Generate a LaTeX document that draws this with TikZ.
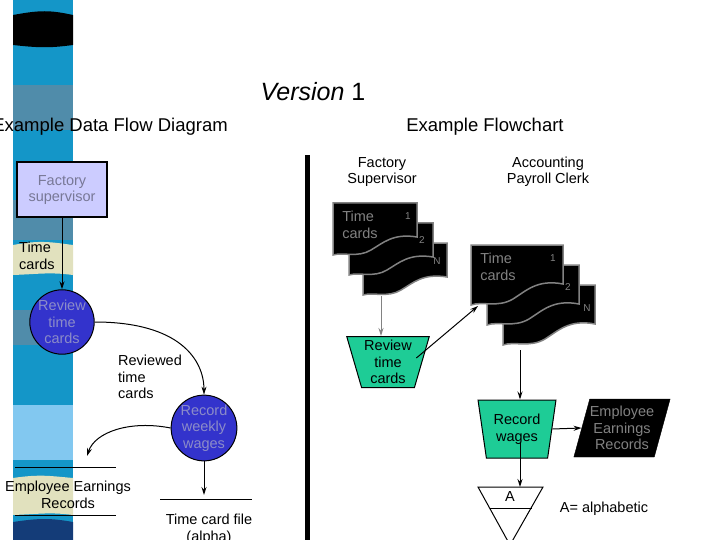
\documentclass[tikz,border=0pt]{standalone}
\usepackage{fontspec}
\setmainfont{Liberation Sans}
\usetikzlibrary{shapes.geometric,arrows.meta}
\definecolor{stripA}{RGB}{20,150,200}
\definecolor{stripB}{RGB}{80,140,170}
\definecolor{beige}{RGB}{225,225,190}
\definecolor{lblue}{RGB}{130,200,240}
\definecolor{navy}{RGB}{20,60,120}
\definecolor{lav}{RGB}{204,204,255}
\definecolor{lavtxt}{RGB}{120,120,150}
\definecolor{dblue}{RGB}{51,51,204}
\definecolor{cirtxt}{RGB}{140,140,200}
\definecolor{teal}{RGB}{30,204,150}
\definecolor{docgray}{RGB}{130,130,130}
\tikzset{
  fnt/.style={font=\fontsize{14.5}{16.5}\selectfont},
  lbl/.style={fnt, align=center, inner sep=0pt},
  arr/.style={-{Stealth[length=8pt,width=5pt]}, line width=1pt},
  circ/.style={circle, fill=dblue, draw=black, line width=1pt, minimum size=64pt, text=cirtxt, fnt, align=center, inner sep=0pt},
  trap/.style={trapezium, shape border rotate=180, trapezium stretches=true, fill=teal, draw=black, line width=1pt, fnt, align=center, inner sep=0pt},
  docst/.style={fill=black, draw=docgray, line width=1.5pt},
  doc/.pic={\draw[docst] (0,52) -- (0,0) -- (84,0) -- (84,34) .. controls (60,30) and (50,40) .. (38,47) .. controls (25,55) and (10,49) .. (0,52) -- cycle;},
  docB/.pic={\draw[docst] (0,60) -- (0,0) -- (92,0) -- (92,39) .. controls (66,34) and (55,46) .. (42,54) .. controls (27,63) and (11,56) .. (0,60) -- cycle;},
  dnum/.style={font=\fontsize{10}{12}\selectfont, text=docgray, inner sep=0pt},
  dtxt/.style={fnt, text=docgray, align=left, inner sep=0pt}
}
\begin{document}
\begin{tikzpicture}[x=1pt,y=-1pt]
\useasboundingbox (0,0) rectangle (720,540);
\clip (0,0) rectangle (720,540);
\fill[white] (0,0) rectangle (720,540);
% strip
\fill[stripA] (13,0) rectangle (73,540);
\fill[black] (13,15) .. controls (40,10) and (50,10) .. (73,15) -- (73,45) .. controls (50,48) and (40,48) .. (13,45) -- cycle;
\fill[stripB] (13,85) rectangle (73,130);
\fill[stripB] (13,200) rectangle (73,240);
\fill[beige] (13,245) .. controls (40,240) and (50,242) .. (73,245) -- (73,275) .. controls (50,272) and (40,274) .. (13,275) -- cycle;
\fill[stripB] (13,310) rectangle (73,345);
\fill[lblue] (13,405) rectangle (73,460);
\fill[beige] (13,478) .. controls (40,474) and (50,476) .. (73,478) -- (73,515) .. controls (50,512) and (40,514) .. (13,515) -- cycle;
\fill[navy] (13,522) .. controls (40,518) and (50,518) .. (73,522) -- (73,540) -- (13,540) -- cycle;
% titles
\node[font=\fontsize{25}{30}\selectfont] (ver) at (313,92) {\textit{Version} 1};
\node[font=\fontsize{18.5}{22}\selectfont, anchor=east, inner sep=0pt] (t1) at (228,127) {Example Data Flow Diagram};
\node[font=\fontsize{18.5}{22}\selectfont] (t2) at (485,127) {Example Flowchart};
% DFD
\node[draw=black, line width=2pt, fill=lav, minimum width=90pt, minimum height=55pt, text=lavtxt, fnt, align=center] (fs) at (62,190) {Factory\\supervisor};
\node[circ] (rev) at (62,322) {Review\\time\\cards};
\draw[arr] (fs.south) -- (rev.north);
\node[lbl, anchor=west, align=left] (tcl) at (19,256) {Time\\cards};
\node[circ, minimum size=60pt] (rec) at (204,428) {Record\\weekly\\wages};
\draw[arr] (rev.east) .. controls (180,322) and (204,360) .. (rec.north);
\node[lbl, anchor=west, align=left] (rtc) at (118,377) {Reviewed\\time\\cards};
\coordinate (eerT) at (87,456);
\draw[arr] (rec.west) .. controls (130,420) and (95,432) .. (eerT);
\coordinate (e1) at (15,467); \coordinate (e2) at (116,467);
\coordinate (e3) at (15,515); \coordinate (e4) at (116,515);
\draw[line width=1pt] (e1) -- (e2); \draw[line width=1pt] (e3) -- (e4);
\node[lbl] (eer) at (68,495) {Employee Earnings\\Records};
\coordinate (tf) at (204,495);
\draw[arr] (rec.south) -- (tf);
\coordinate (f1) at (160,499); \coordinate (f2) at (252,499);
\draw[line width=1pt] (f1) -- (f2);
\node[lbl] (tcf) at (209,529) {Time card file\\(alpha)};
% divider
\fill[black] (305,155) rectangle (310,540);
% flowchart
\node[lbl] (fsup) at (382,172) {Factory\\Supervisor};
\node[lbl] (apc) at (548,172) {Accounting\\Payroll Clerk};
\pic at (363,243) {doc};
\pic at (349,223) {doc};
\pic at (333,203) {doc};
\node[dtxt] (d1t) at (360,225) {Time\\cards};
\node[dnum] at (408,216) {1};
\node[dnum] at (422,240) {2};
\node[dnum] at (437,261) {N};
\coordinate (s1b) at (381,296);
\pic at (503,285) {docB};
\pic at (487,265) {docB};
\pic at (471,245) {docB};
\node[dtxt] (d2t) at (498,267) {Time\\cards};
\node[dnum] at (553,258) {1};
\node[dnum] at (568,287) {2};
\node[dnum] at (587,308) {N};
\coordinate (s2l) at (478,306);
\coordinate (s2b) at (520,350);
\node[trap, minimum width=83pt, minimum height=51pt, trapezium angle=73] (rtc2) at (388,362) {Review\\time\\cards};
\draw[-{Stealth[length=8pt,width=5pt]}, line width=1pt, draw=docgray] (s1b) -- (rtc2.north -| s1b);
\draw[arr] (rtc2.east) ++(-6,-4) coordinate (rtce) (rtce) -- (s2l);
\node[trap, minimum width=78pt, minimum height=58pt, trapezium angle=78] (rw) at (517,429) {Record\\wages};
\draw[arr] (s2b) -- (rw.north -| s2b);
\node[trapezium, trapezium left angle=70, trapezium right angle=110, trapezium stretches=true, fill=black, draw=black, minimum width=86pt, minimum height=58pt, text=docgray, fnt, align=center, inner sep=0pt] (eer2) at (622,428) {Employee\\Earnings\\Records};
\draw[arr] (rw.east) -- (eer2.west);
\coordinate (ta) at (478,487); \coordinate (tb) at (543,487); \coordinate (tc) at (510,545);
\draw[line width=1pt] (ta) -- (tb) -- (tc) -- cycle;
\draw[line width=1pt] (490,508) -- (532,508);
\node[lbl] (A) at (510,497) {A};
\draw[arr] (520,442) -- (520,487);
\node[lbl] (alpha) at (604,509) {A= alphabetic};
\end{tikzpicture}
\end{document}
